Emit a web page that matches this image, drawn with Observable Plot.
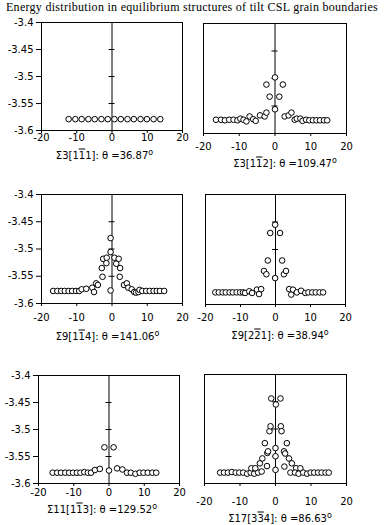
<!DOCTYPE html>
<html><head><meta charset="utf-8">
<script src="https://cdn.jsdelivr.net/npm/d3@7"></script>
<script src="https://cdn.jsdelivr.net/npm/@observablehq/plot@0.6"></script>
<style>
body{margin:0;background:#fff;}
#chart{position:relative;width:384px;height:525px;overflow:hidden;background:#fff;}
.cap{position:absolute;font-family:"DejaVu Sans";font-size:10px;white-space:nowrap;transform:translate(-50%,-50%);color:#000;}
.ov{text-decoration:overline;}
.deg{font-size:8px;position:relative;top:-4px;}
.pnl{position:absolute;}
</style></head><body><div id="chart"></div>
<script>
const title = "Energy distribution in equilibrium structures of tilt CSL grain boundaries";
const xTicks = [-20, -10, 0, 10, 20];
const yTicks = [-3.6, -3.55, -3.5, -3.45, -3.4];
const crossTicks = [-3.45, -3.5, -3.55];

// Σ3[1-11]
const s3a_x = [-12.3,-10.4,-8.6,-6.7,-4.9,-3.0,-1.2,0.7,2.5,4.4,6.2,8.1,9.9,11.8,13.7];
const s3a_y = [-3.579,-3.579,-3.579,-3.579,-3.579,-3.579,-3.579,-3.579,-3.579,-3.579,-3.579,-3.579,-3.579,-3.579,-3.579];
// Σ3[1-12]
const s3b_x = [-16.5,-15.1,-14.0,-12.8,-11.6,-10.5,-9.7,-8.8,-8.0,-7.1,-6.1,-5.4,-4.2,-2.9,-2.4,-2.4,-1.5,0,0,1.2,2.2,2.7,3.8,4.6,5.5,6.1,7.1,7.7,8.7,9.6,10.6,11.6,12.6,13.7,14.6];
const s3b_y = [-3.575,-3.575,-3.576,-3.575,-3.575,-3.576,-3.573,-3.575,-3.578,-3.569,-3.574,-3.577,-3.567,-3.569,-3.562,-3.511,-3.533,-3.498,-3.556,-3.533,-3.511,-3.569,-3.567,-3.562,-3.575,-3.573,-3.573,-3.577,-3.575,-3.576,-3.576,-3.576,-3.576,-3.576,-3.576];
// Σ9[1-14]
const s9a_x = [-16.7,-15.5,-14.4,-13.4,-12.3,-11.3,-10.2,-9.3,-8.6,-7.3,-5.6,-5.1,-4.5,-4.0,-2.7,-2.9,-2.5,-1.5,-1.6,-0.4,-0.4,-0.4,0.7,1.9,1.2,2.3,2.2,3.4,4.2,4.6,5.6,6.3,6.8,7.5,7.8,8.6,9.7,10.7,11.8,12.7,13.6,14.8];
const s9a_y = [-3.577,-3.577,-3.577,-3.577,-3.577,-3.577,-3.577,-3.577,-3.574,-3.573,-3.571,-3.579,-3.563,-3.566,-3.551,-3.535,-3.518,-3.516,-3.526,-3.480,-3.5055,-3.576,-3.516,-3.518,-3.527,-3.535,-3.551,-3.566,-3.563,-3.571,-3.574,-3.579,-3.580,-3.579,-3.575,-3.577,-3.577,-3.577,-3.577,-3.577,-3.577,-3.577];
// Σ9[2-21]
const s9b_x = [-17.2,-16.2,-15.1,-14.2,-13.1,-12.2,-11.1,-10.1,-9.3,-8.7,-7.5,-6.7,-5.3,-4.7,-4.1,-3.3,-2.6,-2.2,-1.5,-0.1,-0.1,1.3,1.9,2.4,3.0,3.9,4.5,5.0,6.1,7.3,8.5,9.4,10.5,11.5,12.6,13.6];
const s9b_y = [-3.578,-3.578,-3.578,-3.578,-3.578,-3.578,-3.578,-3.578,-3.578,-3.579,-3.576,-3.579,-3.573,-3.581,-3.572,-3.539,-3.545,-3.520,-3.470,-3.455,-3.552,-3.470,-3.520,-3.545,-3.539,-3.572,-3.582,-3.573,-3.578,-3.575,-3.579,-3.578,-3.578,-3.578,-3.578,-3.578];
// Σ11[1-13]
const s11_x = [-16.0,-14.7,-13.6,-12.4,-11.3,-10.2,-9.1,-8.1,-7.0,-6.0,-5.1,-4.0,-2.6,-1.3,0,1.3,2.3,3.8,5.1,6.2,7.5,8.7,9.8,11.0,12.3,13.4];
const s11_y = [-3.580,-3.580,-3.580,-3.580,-3.580,-3.580,-3.580,-3.580,-3.579,-3.580,-3.580,-3.575,-3.573,-3.533,-3.576,-3.533,-3.572,-3.574,-3.580,-3.580,-3.582,-3.580,-3.580,-3.580,-3.580,-3.580];
// Σ17[3-34]
const s17_x = [-15.6,-14.5,-13.4,-12.3,-11.2,-10.2,-9.1,-8.0,-7.0,-6.0,-4.9,-3.9,-6.8,-5.7,-4.4,-3.7,-3.0,-2.4,-2.3,-2.1,-1.7,-1.4,-1.2,0.1,0,0,0,1.4,1.5,1.7,2.4,2.5,2.7,3.2,3.8,4.6,5.8,7.0,4.2,5.5,6.5,7.8,8.9,9.9,10.9,12.0,13.0,14.1,15.0];
const s17_y = [-3.580,-3.580,-3.580,-3.579,-3.580,-3.580,-3.580,-3.582,-3.580,-3.582,-3.580,-3.578,-3.572,-3.572,-3.563,-3.554,-3.526,-3.568,-3.544,-3.541,-3.504,-3.495,-3.444,-3.455,-3.535,-3.550,-3.575,-3.444,-3.495,-3.504,-3.541,-3.569,-3.545,-3.526,-3.554,-3.563,-3.572,-3.572,-3.580,-3.580,-3.582,-3.580,-3.582,-3.580,-3.580,-3.580,-3.580,-3.580,-3.580];

const zip = (xs, ys) => xs.map((x, i) => ({x, y: ys[i]}));

const panels = [
  {data: zip(s3a_x, s3a_y), fx: 41, fy: 22, fw: 141, fh: 108, yAxis: true, xPad: 0.5,
   cap: 'Σ3[1<span class="ov">1</span>1]: θ =36.87<span class="deg">o</span>', cx: 104.5, cy: 155},
  {data: zip(s3b_x, s3b_y), fx: 203, fy: 23, fw: 143, fh: 110, yAxis: false, xPad: 6,
   cap: 'Σ3[1<span class="ov">1</span>2]: θ =109.47<span class="deg">o</span>', cx: 285, cy: 163},
  {data: zip(s9a_x, s9a_y), fx: 41, fy: 194, fw: 141, fh: 109, yAxis: true, xPad: 7,
   cap: 'Σ9[1<span class="ov">1</span>4]: θ =141.06<span class="deg">o</span>', cx: 107.5, cy: 336},
  {data: zip(s9b_x, s9b_y), fx: 205, fy: 194, fw: 140, fh: 110, yAxis: false, xPad: 6,
   cap: 'Σ9[2<span class="ov">2</span>1]: θ =38.94<span class="deg">o</span>', cx: 280, cy: 335},
  {data: zip(s11_x, s11_y), fx: 38, fy: 375, fw: 141, fh: 108, yAxis: true, xPad: 2,
   cap: 'Σ11[1<span class="ov">1</span>3]: θ =129.52<span class="deg">o</span>', cx: 102, cy: 509},
  {data: zip(s17_x, s17_y), fx: 204, fy: 374, fw: 142, fh: 109, yAxis: false, xPad: 11,
   cap: 'Σ17[3<span class="ov">3</span>4]: θ =86.63<span class="deg">o</span>', cx: 280, cy: 518}
];

const chart = document.getElementById("chart");

const ml = 40, mr = 6, mt = 12, mb = 30;
const halfTick = 0.85;
for (const p of panels) {
  const marks = [
    Plot.frame({stroke: "black"}),
    Plot.ruleX([0], {stroke: "black"}),
    Plot.ruleY(crossTicks, {x1: -halfTick, x2: halfTick, stroke: "black"}),
    Plot.axisX({ticks: xTicks, tickSize: 3, tickPadding: p.xPad, tickFormat: d => String(d), label: null}),
    Plot.dot(p.data, {x: "x", y: "y", r: 2.8, stroke: "black", fill: "white", strokeWidth: 1})
  ];
  if (p.yAxis) marks.push(Plot.axisY({ticks: yTicks, tickSize: 5, tickPadding: 3, tickFormat: d => String(d), label: null}));
  const svg = Plot.plot({
    width: ml + p.fw + mr, height: mt + p.fh + mb,
    marginLeft: ml, marginRight: mr, marginTop: mt, marginBottom: mb,
    x: {domain: [-20, 20]},
    y: p.yAxis ? {domain: [-3.6, -3.4]} : {domain: [-3.6, -3.4], axis: null},
    style: {fontFamily: "DejaVu Sans", fontSize: "10px", color: "black", background: "transparent", overflow: "visible"},
    marks
  });
  svg.classList.add("pnl");
  svg.style.left = (p.fx - ml) + "px";
  svg.style.top = (p.fy - mt) + "px";
  chart.appendChild(svg);
  const c = document.createElement("div");
  c.className = "cap";
  c.style.left = p.cx + "px"; c.style.top = p.cy + "px";
  c.innerHTML = p.cap;
  chart.appendChild(c);
}

// title added last, stretched to the reference width
const tdiv = document.createElement("div");
tdiv.style.cssText = 'position:absolute;left:6px;top:0;font-family:"Liberation Serif";font-size:12px;line-height:14px;height:14px;white-space:nowrap;color:#000;';
tdiv.textContent = title;
chart.appendChild(tdiv);
const natural = tdiv.getBoundingClientRect().width;
tdiv.style.letterSpacing = ((372 - natural) / title.length) + "px";
</script></body></html>
